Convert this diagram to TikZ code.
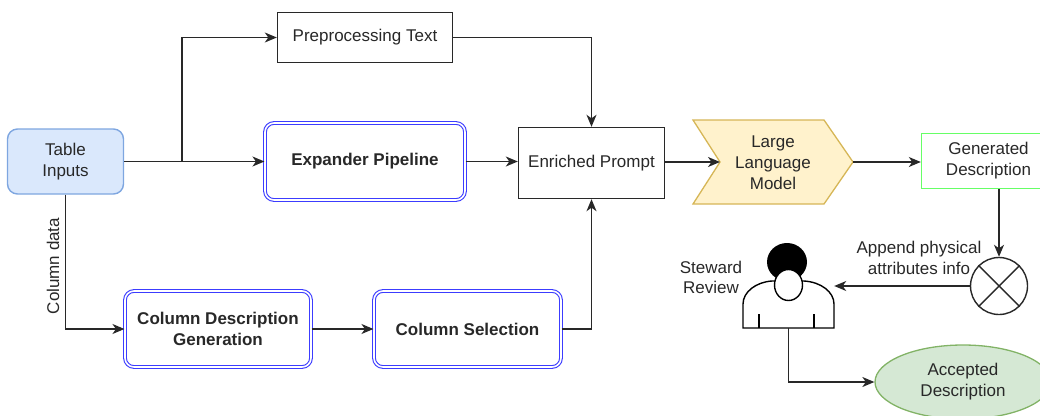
\documentclass[tikz,border=0pt]{standalone}
\usepackage{fontspec}
\setmainfont{Liberation Sans}
\usepackage{tikz}
\usetikzlibrary{arrows.meta,shapes,positioning}
\usepackage{xcolor}
\definecolor{tdblue}{RGB}{60,60,255}
\definecolor{tdinput}{RGB}{218,232,252}
\definecolor{tdinputline}{RGB}{126,166,224}
\definecolor{tdllm}{RGB}{255,242,204}
\definecolor{tdllmline}{RGB}{214,182,86}
\definecolor{tdgreen}{RGB}{102,255,102}
\definecolor{tdaccept}{RGB}{213,232,212}
\definecolor{tdacceptline}{RGB}{130,179,102}
\definecolor{tdline}{RGB}{40,40,40}
\definecolor{tdtext}{RGB}{40,40,40}
\tikzstyle{arrow} = [line width=1.4pt,-{Stealth[length=12pt,width=10pt,inset=3.5pt]},color=tdline]
\tikzstyle{link} = [line width=1.4pt,color=tdline]
\tikzstyle{plain} = [draw=tdline, line width=1.4pt, fill=white, inner sep=0pt, align=center]
\tikzstyle{stage} = [draw=tdblue, double=white, double distance=1.6pt, line width=1.1pt, rounded corners=9pt, fill=white, inner sep=0pt, align=center, font=\fontsize{17}{21}\selectfont\bfseries]

\begin{document}
\begin{tikzpicture}[x=1pt, y=-1pt, font=\fontsize{17}{21}\selectfont, text=tdtext]
\useasboundingbox (0,0) rectangle (1040,415);
\clip (0,0) rectangle (1040,415);

% Input and pipeline stages
\node[plain, draw=tdinputline, fill=tdinput, rounded corners=10pt, minimum width=116, minimum height=65] (tin) at (65.5,161.5) {Table\\Inputs};
\node[plain, minimum width=175, minimum height=50] (pre) at (365,37.5) {Preprocessing Text};
\node[stage, minimum width=200, minimum height=77] (exp) at (365,161.5) {Expander Pipeline};
\node[plain, minimum width=146, minimum height=71] (enr) at (591.5,163) {Enriched Prompt};
\node[stage, minimum width=186, minimum height=76] (cdg) at (218,329) {Column Description\\Generation};
\node[stage, minimum width=187, minimum height=76] (csel) at (467.5,329) {Column Selection};

% Model
\draw[fill=tdllm, draw=tdllmline, line width=1.3pt] (693,120) -- (824,120) -- (853,162) -- (824,204) -- (693,204) -- (720,162) -- cycle;
\node[align=center] (llm) at (773,163) {Large\\Language\\Model};
\coordinate (llmin) at (720,162);
\coordinate (llmout) at (853,162);

% Output side
\node[plain, draw=tdgreen, minimum width=134, minimum height=55] (gen) at (988.5,161) {Generated\\Description};
\node[draw=tdline, line width=1.4pt, circle, minimum size=57, inner sep=0pt] (xor) at (999,286) {};
\draw[link] (xor.north west) -- (xor.south east);
\draw[link] (xor.north east) -- (xor.south west);
\node[ellipse, draw=tdacceptline, fill=tdaccept, line width=1.3pt, minimum width=176, minimum height=74, inner sep=0pt, align=center] (acc) at (963,382) {Accepted\\Description};

% Steward
\node[minimum width=91, minimum height=85, inner sep=0pt] (stew) at (788.5,285.5) {};
\draw[line width=1.4pt, fill=white] (743,328) -- (743,304) .. controls (743,292) and (756,282) .. (772,281) -- (804,281) .. controls (821,282) and (834,292) .. (834,304) -- (834,328) -- cycle;
\fill[black] (787,262) ellipse (20 and 19);
\draw[line width=1.4pt, fill=white] (788.5,285) ellipse (14 and 15.5);
\draw[line width=1.4pt] (759,314) -- (759,328);
\draw[line width=1.4pt] (814,314) -- (814,328);

% Labels
\node[rotate=90] (coldata) at (53,266) {Column data};
\node[align=center] (append) at (919,257.5) {Append physical\\attributes info};
\node[align=center, font=\fontsize{17}{20}\selectfont] (review) at (711,277) {Steward\\Review};

% Connectors
\coordinate (split) at (182,161.5);
\draw[link] (tin.east) -- (split);
\draw[arrow] (split) -- (exp.west);
\draw[arrow] (split) |- (pre.west);
\draw[arrow] (pre.east) -| (enr.north);
\draw[arrow] (exp.east) -- (enr.west |- exp.east);
\draw[arrow] (tin.south) |- (cdg.west);
\draw[arrow] (cdg.east) -- (csel.west);
\draw[arrow] (csel.east) -| (enr.south);
\draw[arrow] (enr.east |- llmin) -- (llmin);
\draw[arrow] (llmout) -- (gen.west |- llmout);
\draw[arrow] (xor.north |- gen.south) -- (xor.north);
\draw[arrow] (xor.west) -- (xor.west -| stew.east);
\draw[arrow] (stew.south) |- (acc.west);
\end{tikzpicture}
\end{document}
